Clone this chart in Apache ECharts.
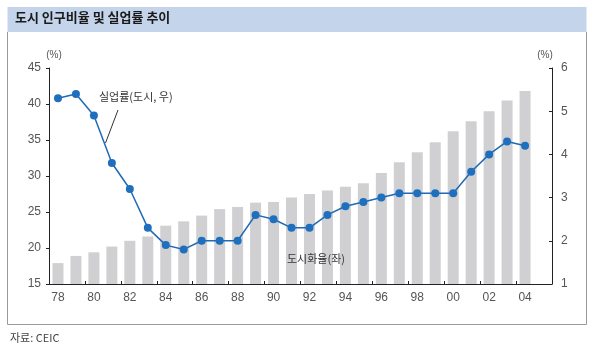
<!DOCTYPE html>
<html><head><meta charset="utf-8">
<script src="https://cdn.jsdelivr.net/npm/echarts@6/dist/echarts.min.js"></script>
<style>html,body{margin:0;padding:0;background:#fff}#c{width:600px;height:353px}</style>
</head><body><div id="c"></div>
<script>
const categories = ['78','79','80','81','82','83','84','85','86','87','88','89','90','91','92','93','94','95','96','97','98','99','00','01','02','03','04',''];
const urbanization = [17.9,18.9,19.4,20.2,21.0,21.6,23.1,23.7,24.5,25.4,25.7,26.3,26.4,27.0,27.5,28.0,28.5,29.0,30.4,31.9,33.3,34.7,36.2,37.6,39.0,40.5,41.8];
const unemployment = [5.3,5.4,4.9,3.8,3.2,2.3,1.9,1.8,2.0,2.0,2.0,2.6,2.5,2.3,2.3,2.6,2.8,2.9,3.0,3.1,3.1,3.1,3.1,3.6,4.0,4.3,4.2];
const titleText = '도시 인구비율 및 실업률 추이';
const sourceText = '자료: CEIC';
const lineLabel = '실업률(도시, 우)';
const barLabel = '도시화율(좌)';

const font = '"Liberation Sans", "Noto Sans CJK KR", sans-serif';
const kfont = '"Noto Sans CJK KR", sans-serif';
const chart = echarts.init(document.getElementById('c'), null, {renderer:'canvas'});
chart.setOption({
  animation:false,
  grid:{left:49, right:48, top:68, bottom:69},
  xAxis:{type:'category', data:categories, boundaryGap:true,
    axisLine:{lineStyle:{color:'#222', width:1}},
    axisTick:{show:true, inside:true, length:3, interval:1, lineStyle:{color:'#222'}},
    axisLabel:{interval:1, color:'#555', fontSize:12, fontFamily:font, margin:8}},
  yAxis:[
    {type:'value', min:15, max:45, interval:5, name:'(%)', nameLocation:'end', nameGap:8,
      nameTextStyle:{color:'#555', fontSize:10, fontFamily:font, padding:[0,0,0,10]},
      axisLine:{show:true, lineStyle:{color:'#222'}},
      axisTick:{show:true, length:3, lineStyle:{color:'#222'}},
      splitLine:{show:false},
      axisLabel:{color:'#555', fontSize:12, fontFamily:font, margin:8}},
    {type:'value', min:1, max:6, interval:1, position:'right', name:'(%)', nameLocation:'end', nameGap:8,
      nameTextStyle:{color:'#555', fontSize:10, fontFamily:font, padding:[0,14,0,0]},
      axisLine:{show:true, lineStyle:{color:'#222'}},
      axisTick:{show:true, inside:true, length:3, lineStyle:{color:'#222'}},
      splitLine:{show:false},
      axisLabel:{color:'#555', fontSize:12, fontFamily:font, margin:9}}
  ],
  series:[
    {type:'bar', yAxisIndex:0, data:urbanization, barWidth:11, itemStyle:{color:'#d0d0d2'}, z:1},
    {type:'line', yAxisIndex:1, data:unemployment, symbol:'circle', symbolSize:8,
      lineStyle:{color:'#1f6ab3', width:1.5}, itemStyle:{color:'#1f6fbf'}, z:3}
  ],
  graphic:[
    {type:'rect', shape:{x:7.5, y:7, width:579, height:25}, style:{fill:'#c4d5eb'}, z:-1},
    {type:'polyline', shape:{points:[[7.5,32],[7.5,324.5],[586.5,324.5],[586.5,32]]}, style:{stroke:'#9a9a9a', lineWidth:1, fill:null}},
    {type:'text', left:15, top:11, z:100, style:{text:titleText, font:'bold 13px '+kfont, fill:'#1a1a1a'}},
    {type:'text', left:10, top:332, z:100, style:{text:sourceText, font:'11px '+kfont, fill:'#444'}},
    {type:'text', left:99, top:91, z:100, style:{text:lineLabel, font:'11px '+kfont, fill:'#333'}},
    {type:'line', z:100, shape:{x1:118, y1:110, x2:105.5, y2:143}, style:{stroke:'#333', lineWidth:1}},
    {type:'text', left:287, top:253, z:100, style:{text:barLabel, font:'11px '+kfont, fill:'#333'}}
  ]
});
</script></body></html>
